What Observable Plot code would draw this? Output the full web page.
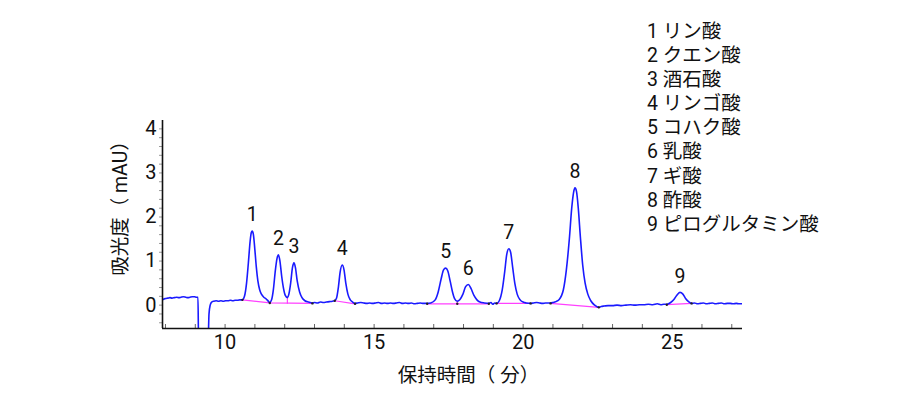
<!DOCTYPE html>
<html><head><meta charset="utf-8">
<script src="https://cdn.jsdelivr.net/npm/d3@7"></script>
<script src="https://cdn.jsdelivr.net/npm/@observablehq/plot@0.6"></script>
<style>
body{margin:0;background:#fff;}
#wrap{position:relative;width:900px;height:400px;font-family:Roboto,"Noto Sans CJK JP",sans-serif;}
#legend{position:absolute;left:647px;top:20px;font-size:19.5px;line-height:24.1px;color:#111;white-space:nowrap;}
</style></head><body><div id="wrap"><div id="legend"></div></div>
<script>
// chromatogram trace (min, mAU)
const times = [
 7.90,7.95,8.00,8.08,8.15,8.22,8.30,8.38,8.45,8.52,8.60,8.68,8.75,8.82,8.90,8.97,9.04,9.09,9.11,
 9.43,9.46,9.50,9.55,9.62,9.70,9.78,9.86,9.94,10.02,10.10,10.18,10.26,10.34,10.42,10.50,10.58,
 10.65,10.72,10.78,10.84,10.88,10.91,10.95,11.00,11.05,11.10,11.16,11.22,11.30,11.38,11.45,11.50,
 11.56,11.62,11.68,11.74,11.79,11.84,11.90,11.96,12.02,12.09,
 12.14,12.20,12.26,12.31,12.36,12.42,12.50,12.58,12.68,12.80,12.93,13.00,13.10,13.20,13.30,13.40,13.50,13.60,13.68,
 13.74,13.80,13.86,13.93,13.99,14.05,14.12,14.20,14.28,14.36,
 14.45,14.55,14.65,14.75,14.85,14.95,15.05,15.15,15.25,15.35,15.45,15.55,15.65,15.75,15.85,15.95,16.05,16.15,16.25,16.35,16.45,16.55,16.65,16.78,
 16.90,17.05,17.15,17.25,17.33,17.40,17.47,17.55,17.63,17.70,17.79,
 17.88,17.98,18.07,18.16,18.25,18.35,18.45,18.55,18.70,18.85,18.92,18.98,19.05,19.11,
 19.20,19.30,19.38,19.45,19.52,19.58,19.65,19.72,19.80,19.90,20.00,20.10,20.25,
 20.35,20.45,20.55,20.65,20.75,20.85,20.92,21.00,21.10,
 21.20,21.35,21.45,21.55,21.63,21.69,21.74,21.79,21.85,21.92,22.00,22.08,22.17,22.27,22.40,22.54,
 22.62,22.72,22.85,23.00,23.15,23.30,23.45,23.60,23.75,23.90,24.05,24.20,24.35,24.50,24.62,24.72,24.82,
 24.95,25.05,25.15,25.26,25.36,25.45,25.55,25.65,
 25.75,25.85,25.95,26.05,26.15,26.25,26.35,26.45,26.55,26.65,26.75,26.85,26.95,27.05,27.15,27.25,27.36
];
const values = [
 0.12,0.14,0.15,0.16,0.17,0.16,0.17,0.18,0.17,0.18,0.19,0.18,0.17,0.18,0.19,0.19,0.18,0.18,-0.8,
 -0.8,-0.2,0.00,0.07,0.09,0.10,0.09,0.10,0.09,0.10,0.10,0.11,0.10,0.11,0.11,0.12,0.12,
 0.20,0.50,0.95,1.45,1.65,1.68,1.60,1.25,0.85,0.55,0.35,0.25,0.18,0.14,0.09,0.06,
 0.12,0.35,0.75,1.05,1.14,1.00,0.65,0.38,0.22,0.17,
 0.25,0.50,0.85,0.96,0.85,0.55,0.30,0.17,0.10,0.07,0.05,0.06,0.05,0.07,0.06,0.07,0.08,0.09,0.10,
 0.16,0.40,0.75,0.91,0.80,0.50,0.25,0.12,0.07,0.04,
 0.05,0.06,0.05,0.04,0.05,0.04,0.05,0.06,0.04,0.05,0.04,0.05,0.04,0.05,0.06,0.04,0.05,0.04,0.05,0.03,0.04,0.05,0.04,0.04,
 0.05,0.12,0.30,0.60,0.80,0.84,0.78,0.55,0.30,0.15,0.09,
 0.13,0.25,0.42,0.47,0.38,0.22,0.12,0.07,0.05,0.04,0.06,0.02,0.05,0.04,
 0.10,0.35,0.75,1.15,1.28,1.20,0.85,0.50,0.25,0.12,0.07,0.05,0.04,
 0.05,0.06,0.05,0.04,0.05,0.05,0.05,0.06,0.08,
 0.12,0.35,0.80,1.50,2.20,2.55,2.66,2.58,2.20,1.55,0.90,0.50,0.25,0.10,0.00,-0.05,
 -0.03,-0.02,-0.01,-0.01,0.00,-0.01,0.00,0.01,0.00,0.01,0.01,0.02,0.01,0.03,0.01,0.02,0.02,
 0.06,0.12,0.22,0.29,0.25,0.15,0.08,0.04,
 0.05,0.03,0.04,0.05,0.03,0.04,0.05,0.03,0.04,0.05,0.03,0.04,0.04,0.03,0.04,0.03,0.03
];
// integration baselines (magenta)
const baseSeg = ["A","A","A","Ad","Ad","B","B","C","C","C","Cd","Cd","D","D","E","E","F","F"];
const baseT   = [10.58,11.50,12.93,12.09,12.09,13.68,14.36,16.78,17.79,18.85,17.79,17.79,19.11,20.25,20.92,22.54,24.82,25.65];
const baseV   = [0.12,0.05,0.04,0.045,0.17,0.10,0.03,0.03,0.03,0.03,0.03,0.09,0.04,0.04,0.04,-0.05,0.01,0.04];
// peak apexes and labels
const peakNums  = ["1","2","3","4","5","6","7","8","9"];
const peakTimes = [10.91,11.79,12.31,13.93,17.40,18.16,19.52,21.74,25.26];
const peakVals  = [1.68,1.14,0.96,0.91,0.84,0.47,1.28,2.66,0.29];
const peakNames = ["リン酸","クエン酸","酒石酸","リンゴ酸","コハク酸","乳酸","ギ酸","酢酸","ピログルタミン酸"];
// axes
const xDomain = [7.9, 27.36];
const yDomain = [-0.53, 4.19];
const xMajor = [10, 15, 20, 25];
const yMajor = [0, 1, 2, 3, 4];
const xMinor = d3.range(8, 28, 1);
const yMinor = d3.range(-4, 42, 2).map(d => d / 10);
const xLabel = "保持時間（ 分）";
const yLabel = "吸光度（ mAU）";

const trace = times.map((t, i) => ({t, v: values[i]}));
const base = baseT.map((t, i) => ({t, v: baseV[i], s: baseSeg[i]}));
const baseEnds = base.filter(d => !d.s.endsWith("d"));
const peaks = peakNums.map((n, i) => ({n, t: peakTimes[i], v: peakVals[i]}));

const font = 'Roboto,"Noto Sans CJK JP",sans-serif';
const chart = Plot.plot({
  width: 900, height: 400,
  marginLeft: 162, marginRight: 158, marginTop: 120, marginBottom: 72,
  x: {domain: xDomain},
  y: {domain: yDomain},
  style: {fontFamily: font, fontSize: "20px", color: "#111", background: "transparent"},
  marks: [
    Plot.axisY({ticks: yMinor, tickSize: 3, tickFormat: () => "", label: null, stroke: "#999"}),
    Plot.axisY({ticks: yMajor, tickSize: 0, tickPadding: 6, tickFormat: d => String(d), fontSize: 20, label: null}),
    Plot.axisX({ticks: xMajor, tickSize: 0, tickPadding: 6, tickFormat: d => String(d), fontSize: 20, label: null}),
    Plot.tickX(xMinor, {insetTop: 204, stroke: "#666"}),
    Plot.line(base, {x: "t", y: "v", z: "s", stroke: "#ff40ff", strokeWidth: 1.2}),
    Plot.line(trace, {x: "t", y: "v", stroke: "#1a1aff", strokeWidth: 1.6, curve: "monotone-x", clip: true}),
    Plot.dot(baseEnds, {x: "t", y: "v", r: 1.2, fill: "#222"}),
    Plot.ruleX([xDomain[0]], {stroke: "#111", strokeWidth: 1.6}),
    Plot.ruleY([yDomain[0]], {stroke: "#111", strokeWidth: 1.6}),
    Plot.text(peaks, {x: "t", y: "v", text: "n", dy: -16, fontSize: 19.5, fill: "#111"}),
    Plot.text([yLabel], {frameAnchor: "left", textAnchor: "middle", dx: -42, dy: -21, rotate: -90, fontSize: 19.5, fill: "#111"}),
    Plot.text([xLabel], {frameAnchor: "bottom", dx: 16, dy: 53, fontSize: 19.5, fill: "#111"})
  ]
});
const wrap = document.getElementById("wrap");
wrap.insertBefore(chart, wrap.firstChild);
document.getElementById("legend").innerHTML =
  peakNums.map((n, i) => `<div>${n} ${peakNames[i]}</div>`).join("");
</script>
</body></html>
